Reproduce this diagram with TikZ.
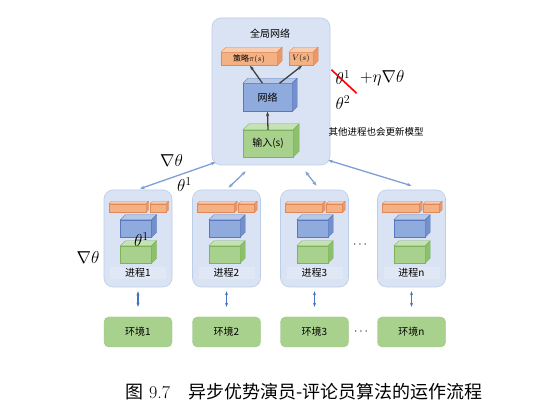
\documentclass[tikz,border=0pt]{standalone}
\usepackage{fontspec}
\usepackage{amsmath}
\usepackage{amssymb}
\usetikzlibrary{arrows.meta}
\newfontfamily\cjk{Noto Sans CJK SC}

\definecolor{panel}{HTML}{DAE3F3}
\definecolor{panelD}{HTML}{BCCDE9}
\definecolor{org}{HTML}{F4B183}
\definecolor{orgD}{HTML}{E0885A}
\definecolor{orgS}{HTML}{E8986A}
\definecolor{blu}{HTML}{8FAADC}
\definecolor{bluD}{HTML}{5877BD}
\definecolor{bluS}{HTML}{7390CC}
\definecolor{grn}{HTML}{A9D18E}
\definecolor{grnD}{HTML}{7DB35B}
\definecolor{grnS}{HTML}{8CC06A}
\definecolor{linkc}{HTML}{7F9FD6}
\definecolor{envc}{HTML}{4472C4}

\tikzset{
  panelbox/.style={draw=panelD, fill=panel, rounded corners=9pt, line width=0.6pt},
  envbox/.style={draw=grnD!80, fill=grn, rounded corners=5pt, minimum width=68pt, minimum height=30pt, font=\cjk\fontsize{10}{12}\selectfont},
  link/.style={{Stealth[length=4.5pt]}-{Stealth[length=4.5pt]}, linkc, line width=1.3pt},
  envlink/.style={{Stealth[length=4pt]}-{Stealth[length=4pt]}, envc, line width=1.4pt},
  netarrow/.style={-{Stealth[length=4.5pt]}, black!75, line width=1.3pt},
  bigmath/.style={font=\fontsize{17}{20}\selectfont, inner sep=0pt},
}

% name, position, width, height, depth, colour, text
\newcommand{\cuboid}[7]{%
  \node[draw=#6D, fill=#6, minimum width=#3pt, minimum height=#4pt, inner sep=0pt,
        font=\cjk\fontsize{10}{12}\selectfont] (#1) at #2 {#7};
  \filldraw[draw=#6D, fill=#6!65!white, line join=round] (#1.north west) -- ++(#5,#5)
    -- ([shift={(#5,#5)}]#1.north east) -- (#1.north east) -- cycle;
  \filldraw[draw=#6D, fill=#6S, line join=round] (#1.north east) -- ++(#5,#5)
    -- ([shift={(#5,#5)}]#1.south east) -- (#1.south east) -- cycle;
}

\begin{document}
\begin{tikzpicture}[x=1pt,y=1pt]
  \useasboundingbox[fill=white] (0,0) rectangle (542,420);

  % global network
  \node[panelbox, minimum width=118pt, minimum height=147pt] (glob) at (271,328.5) {};
  \node[font=\cjk\fontsize{10}{12}\selectfont] (globtitle) at (270,386) {全局网络};
  \cuboid{pi}{(249,361)}{56}{13}{5}{org}{\fontsize{8}{9}\selectfont 策略$\pi(s)$}
  \cuboid{vs}{(301,361)}{24}{13}{5}{org}{\fontsize{8}{9}\selectfont $V(s)$}
  \cuboid{net}{(267.5,322.5)}{49}{28}{5}{blu}{网络}
  \cuboid{inp}{(268,276.5)}{50}{27}{6}{grn}{输入(s)}
  \draw[netarrow] ([xshift=-5pt]net.north) -- ([xshift=1pt]pi.south);
  \draw[netarrow] ([xshift=12pt]net.north) -- ([xshift=1pt]vs.south);
  \draw[netarrow] (inp.north) -- (net.south);

  % update of the global parameters
  \node[bigmath] (th1) at (343,342) {$\theta^1$};
  \node[bigmath, anchor=west] (upd) at (360,342) {$+\eta\nabla\theta$};
  \draw[red, line width=1.6pt] ([shift={(-4,1)}]th1.north west) -- ([shift={(6,-8)}]th1.south east);
  \node[bigmath] (th2) at (343,317) {$\theta^2$};
  \node[font=\cjk\fontsize{9.5}{11}\selectfont] (other) at (376,288) {其他进程也会更新模型};

  % workers and environments
  \foreach \i/\x/\lab in {1/138/1, 2/226.5/2, 3/314.5/3, 4/411.5/n} {
    \node[panelbox, minimum width=68pt, minimum height=97pt] (proc\i) at (\x,181.5) {};
    \cuboid{pa\i}{(\x-10.5,212)}{37}{8}{2.5}{org}{}
    \cuboid{pb\i}{(\x+20,212)}{16}{8}{2.5}{org}{}
    \cuboid{pn\i}{(\x-2,191.5)}{31}{17}{5}{blu}{}
    \cuboid{pg\i}{(\x-2,165.5)}{31}{17}{5}{grn}{}
    \node[fill=panelD!45, minimum width=56pt, minimum height=12pt, inner sep=0pt,
          font=\cjk\fontsize{10}{12}\selectfont] (plab\i) at (\x,147) {进程\lab};
    \node[envbox] (env\i) at (\x,88) {环境\lab};
    \draw[envlink, shorten <=4pt, shorten >=10pt] (proc\i.south) -- (env\i.north);
  }
  \node[font=\large] (pdots) at (361,175) {$\cdots$};
  \node[font=\large] (edots) at (362,88) {$\cdots$};

  % exchange with the global network
  \draw[link] ([shift={(4,3)}]glob.south west) -- ([xshift=2pt,yshift=1pt]proc1.north);
  \draw[link] ([shift={(34,-6)}]glob.south west) -- ([xshift=2pt,yshift=2pt]proc2.north);
  \draw[link] ([shift={(-25,-6)}]glob.south east) -- ([xshift=2pt,yshift=4pt]proc3.north);
  \draw[link] ([shift={(-2,5)}]glob.south east) -- ([xshift=0pt,yshift=4pt]proc4.north);
  \node[bigmath] (grad) at (171.5,259) {$\nabla\theta$};
  \node[bigmath] (thl) at (184.5,235) {$\theta^1$};
  \node[bigmath] (thin) at (141.5,180) {$\theta^1$};
  \node[bigmath] (gradl) at (88,162) {$\nabla\theta$};

  % caption
  \node[font=\fontsize{18}{20}\selectfont] (cap) at (304,28)
    {{\cjk 图}~9.7\quad{\cjk 异步优势演员-评论员算法的运作流程}};
\end{tikzpicture}
\end{document}
